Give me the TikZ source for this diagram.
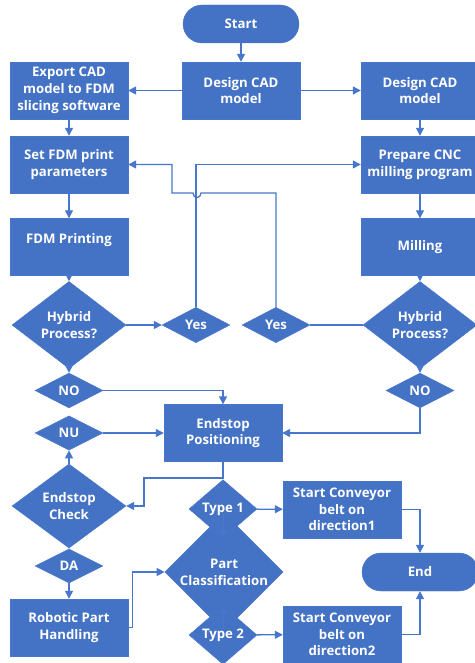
\documentclass[tikz,border=0pt]{standalone}
\usepackage{fontspec}
\setmainfont{Open Sans}
\usetikzlibrary{shapes.geometric,arrows.meta}

\definecolor{fcblue}{RGB}{68,114,196}
\definecolor{fcline}{RGB}{72,118,204}

\tikzset{
  base/.style={fill=fcblue,draw=fcline,text=white,align=center,inner sep=1pt,
    font=\fontsize{13.2}{16.7}\selectfont\bfseries},
  box/.style={base,rectangle,minimum width=118pt,minimum height=57pt},
  term/.style={base,rectangle,rounded corners=19pt,minimum width=116pt,minimum height=38pt},
  bigdec/.style={base,diamond,minimum width=114pt,minimum height=57pt},
  smalldec/.style={base,diamond,minimum width=68pt,minimum height=34pt},
  ln/.style={draw=fcline,line width=1.3pt},
  arr/.style={ln,-{Triangle[length=8pt,width=8pt]}}
}

\begin{document}
\begin{tikzpicture}[x=1pt,y=-1pt]
\useasboundingbox (0,0) rectangle (474,663);

% top row
\node[term] (start) at (241,24) {Start};
\node[box] (design) at (241,90.5) {Design CAD\\model};
\node[box] (export) at (69,90.5) {Export CAD\\model to FDM\\slicing software};
\node[box] (design2) at (420,90.5) {Design CAD\\model};

% FDM branch / CNC branch
\node[box] (setfdm) at (69,164.5) {Set FDM print\\parameters};
\node[box] (cnc) at (420,164.5) {Prepare CNC\\milling program};
\node[box] (fdmprint) at (69,247) {FDM Printing\\\mbox{}};
\node[box] (milling) at (420,247) {Milling};

\node[bigdec] (hybl) at (69,325) {Hybrid\\Process?};
\node[smalldec] (yesl) at (196,325) {Yes};
\node[smalldec] (yesr) at (276,325) {Yes};
\node[bigdec] (hybr) at (420,325) {Hybrid\\Process?};

\node[smalldec] (nol) at (69,390.5) {NO};
\node[smalldec] (nor) at (420,390.5) {NO};

% endstop
\node[box] (endpos) at (223,433) {Endstop\\Positioning};
\node[smalldec] (nu) at (69,433) {NU};
\node[bigdec,minimum height=55pt] (echeck) at (69,506) {Endstop\\Check};
\node[smalldec] (da) at (69,566) {DA};
\node[box] (robot) at (69,627.5) {Robotic Part\\Handling};

% sorting
\node[base,diamond,minimum width=116pt,minimum height=71pt] (partcls) at (224,572) {Part\\Classification};
\node[smalldec] (type1) at (223,509) {Type 1};
\node[smalldec] (type2) at (223,635) {Type 2};
\node[box] (conv1) at (342,509.5) {Start Conveyor\\belt on\\direction1};
\node[box] (conv2) at (342,634.5) {Start Conveyor\\belt on\\direction2};
\node[term,minimum width=116pt] (fin) at (420,572) {End};

\coordinate (hop) at (197,193);

\draw[arr] (start) -- (design);
\draw[arr] (design) -- (export);
\draw[arr] (design) -- (design2);
\draw[arr] (export) -- (setfdm);
\draw[arr] (design2) -- (cnc);
\draw[arr] (setfdm) -- (fdmprint);
\draw[arr] (cnc) -- (milling);
\draw[arr] (fdmprint) -- (hybl);
\draw[arr] (milling) -- (hybr);
\draw[arr] (hybl) -- (yesl);
\draw[ln] (hybr) -- (yesr);
\draw[arr] (yesl.north) |- (cnc.west);
\draw[arr] (yesr.north) |- ([xshift=4pt]hop) .. controls ([xshift=4pt,yshift=-6pt]hop) and ([xshift=-4pt,yshift=-6pt]hop) .. ([xshift=-4pt]hop) -- (172,193) |- (setfdm.east);
\draw[arr] (hybl) -- (nol);
\draw[arr] (hybr) -- (nor);
\draw[arr] (nol) -| (endpos);
\draw[arr] (nor) |- (endpos);
\draw[arr] (nu) -- (endpos);
\draw[arr] (endpos.south) |- (144,478) |- (echeck.east);
\draw[arr] (echeck) -- (nu);
\draw[arr] (echeck) -- (da);
\draw[arr] (da) -- (robot);
\draw[arr] (robot.east) -- ++(4,0) |- (partcls.west);
\draw[arr] (partcls) -- (type1);
\draw[arr] (partcls) -- (type2);
\draw[arr] (type1) -- (conv1);
\draw[arr] (type2) -- (conv2);
\draw[arr] (conv1.east) -| (fin.north);
\draw[arr] (conv2.east) -| (fin.south);

\end{tikzpicture}
\end{document}
